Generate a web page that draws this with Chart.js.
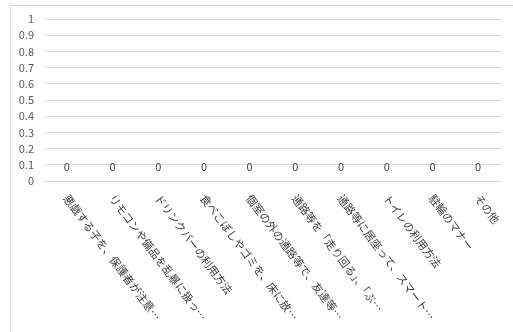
<!DOCTYPE html>
<html>
<head>
<meta charset="utf-8">
<script src="https://cdn.jsdelivr.net/npm/chart.js@4/dist/chart.umd.min.js"></script>
<style>
html,body{margin:0;padding:0;background:#fff;}
#wrap{width:513px;height:332px;position:relative;}
</style>
</head>
<body>
<div id="wrap"><canvas id="c" width="513" height="332"></canvas></div>
<script>
const categories = [
  "悪戯する子を、保護者が注意…",
  "リモコンや備品を乱暴に扱っ…",
  "ドリンクバーの利用方法",
  "食べこぼしやゴミを、床に放…",
  "個室の外の通路等で、友達等…",
  "通路等を「走り回る」、「ぶ…",
  "通路等に居座って、スマート…",
  "トイレの利用方法",
  "駐輪のマナー",
  "その他"
];
const values = [0, 0, 0, 0, 0, 0, 0, 0, 0, 0];
const yMin = 0, yMax = 1, yStep = 0.1;

const CJK = '"Noto Sans CJK JP", "Noto Sans", sans-serif';

const decor = {
  id: 'decor',
  beforeDraw(chart) {
    const ctx = chart.ctx;
    ctx.save();
    ctx.fillStyle = '#fff';
    ctx.fillRect(0, 0, chart.width, chart.height);
    ctx.strokeStyle = '#d9d9d9';
    ctx.lineWidth = 1;
    ctx.strokeRect(10.5, 5.5, 700, 500);
    ctx.restore();
  },
  afterDraw(chart) {
    const ctx = chart.ctx;
    const xs = chart.scales.x, ys = chart.scales.y;
    ctx.save();
    ctx.font = '11px ' + CJK;
    ctx.fillStyle = '#404040';
    ctx.textAlign = 'center';
    ctx.textBaseline = 'middle';
    const meta = chart.getDatasetMeta(0);
    meta.data.forEach((el, i) => {
      ctx.fillText(String(values[i]), el.x, ys.getPixelForValue(values[i]) - 14);
    });
    ctx.fillStyle = '#404040';
    ctx.textAlign = 'left';
    ctx.textBaseline = 'middle';
    categories.forEach((lab, i) => {
      const x = xs.getPixelForTick(i);
      ctx.save();
      ctx.translate(x - 1, 196);
      ctx.rotate(53 * Math.PI / 180);
      ctx.fillText(lab, 0, 0);
      ctx.restore();
    });
    ctx.restore();
  }
};

new Chart(document.getElementById('c'), {
  type: 'bar',
  data: {
    labels: categories,
    datasets: [{ data: values, backgroundColor: '#4472c4', borderWidth: 0 }]
  },
  options: {
    responsive: false,
    animation: false,
    devicePixelRatio: 1,
    layout: { padding: { left: 10, right: 12, top: 19, bottom: 151 } },
    plugins: { legend: { display: false }, tooltip: { enabled: false } },
    scales: {
      x: {
        ticks: { display: false },
        grid: { display: false, drawTicks: false },
        border: { display: false },
        afterFit(s) { s.height = 0; }
      },
      y: {
        min: yMin, max: yMax,
        ticks: {
          stepSize: yStep,
          padding: 10,
          color: '#595959',
          font: { family: CJK, size: 11 },
          callback: v => String(Number(v.toFixed(1)))
        },
        grid: { color: '#d9d9d9', lineWidth: 1, drawTicks: false },
        border: { display: false },
        afterFit(s) { s.width = 34; }
      }
    }
  },
  plugins: [decor]
});
</script>
</body>
</html>
